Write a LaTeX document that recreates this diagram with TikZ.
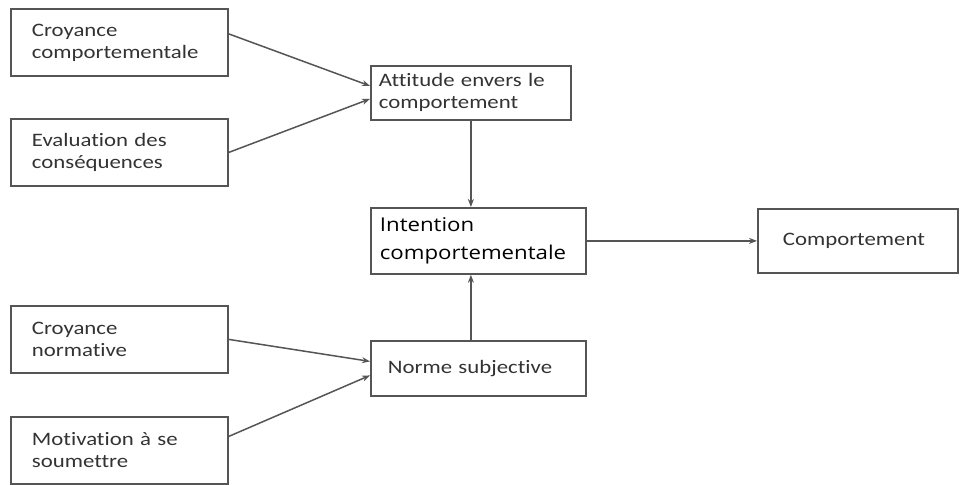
\documentclass[tikz,border=0pt]{standalone}
\usepackage{fontspec}
\setmainfont{Carlito}[FakeStretch=1.2,Ligatures=NoCommon]
\newfontfamily\bigfont{Open Sans}[FakeStretch=1.17,Ligatures=NoCommon]
\usetikzlibrary{positioning,calc,arrows.meta}
\definecolor{boxgray}{HTML}{555555}
\definecolor{txtgray}{HTML}{333333}

\begin{document}
\begin{tikzpicture}[x=1pt,y=-1pt,>={Stealth[length=8pt,width=6pt]},
	box/.style={draw=boxgray,line width=1.8pt,anchor=north west,align=left,
		text=txtgray,font=\fontsize{19}{22}\selectfont,inner ysep=0pt},
	arr/.style={->,draw=boxgray,line width=1.5pt}]
		\useasboundingbox (0,0) rectangle (962,485);
		% les boites
		\node[box,minimum width=217pt,minimum height=67pt,text width=175pt,inner xsep=21pt] (croyc) at (10,8) {Croyance\\comportementale};
		\node[box,minimum width=217pt,minimum height=67pt,text width=175pt,inner xsep=21pt] (evalc) at (10,118) {Evaluation des\\cons\'equences};
		\node[box,minimum width=217pt,minimum height=67pt,text width=175pt,inner xsep=21pt] (croyn) at (10,305) {Croyance\\normative};
		\node[box,minimum width=217pt,minimum height=67pt,text width=175pt,inner xsep=21pt] (motiv) at (10,416) {Motivation \`a se\\soumettre};
		\node[box,minimum width=200pt,minimum height=54pt,text width=184pt,inner xsep=8pt] (att) at (370,65) {Attitude envers le\\comportement};
		\node[box,minimum width=215pt,minimum height=66pt,text width=197pt,inner xsep=9pt,text=black,font=\bigfont\fontsize{19}{28}\selectfont] (intent) at (370,207) {Intention\\comportementale};
		\node[box,minimum width=215pt,minimum height=55pt,text width=181pt,inner xsep=17pt] (norme) at (370,340) {Norme subjective};
		\node[box,minimum width=200pt,minimum height=64pt,text width=150pt,inner xsep=25pt] (comp) at (757,208) {Comportement};
		% les fleches
		\draw[arr] ([yshift=8.5pt]croyc.east) -- ([yshift=7pt]att.west);
		\draw[arr] (evalc.east) -- ([yshift=-6pt]att.west);
		\draw[arr] (croyn.east) -- ([yshift=7pt]norme.west);
		\draw[arr] ([yshift=14pt]motiv.east) -- ([yshift=-7pt]norme.west);
		\draw[arr] (att.south) -- (att.south |- intent.north);
		\draw[arr] (norme.north -| att.south) -- (intent.south -| att.south);
		\draw[arr] (intent.east) -- (comp.west);
\end{tikzpicture}
\end{document}
